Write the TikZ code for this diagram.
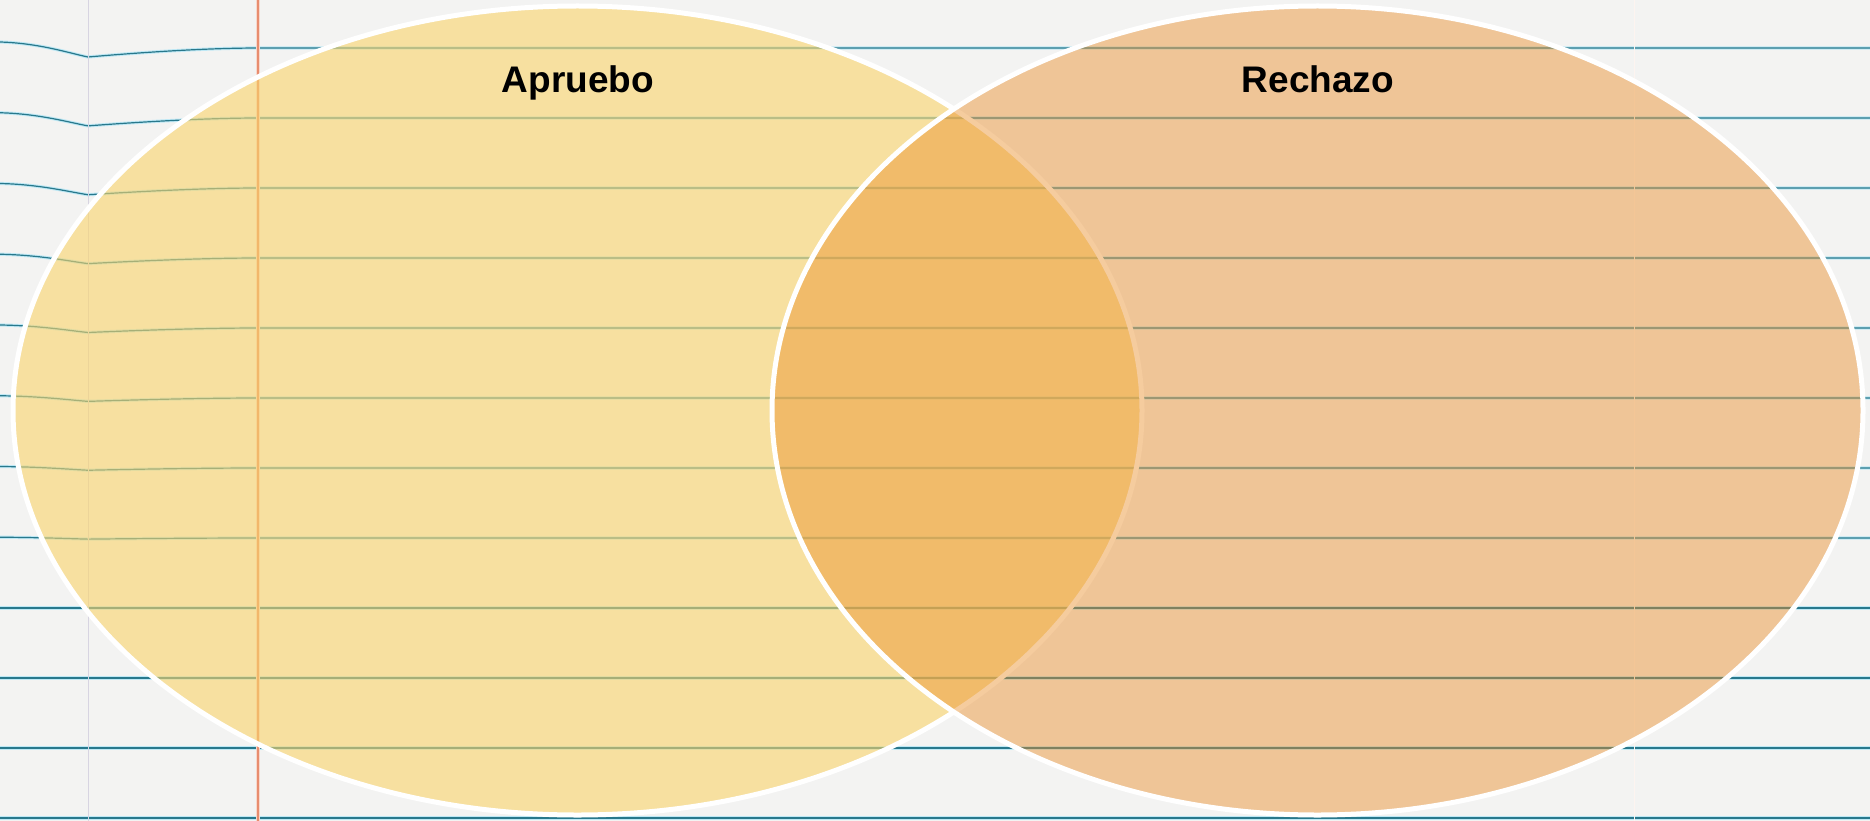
\documentclass[tikz,border=0pt]{standalone}
\usepackage{fontspec}
\setmainfont{Liberation Sans}
\usetikzlibrary{shapes.geometric}
\definecolor{paper}{RGB}{243,243,242}
\definecolor{lineglow}{RGB}{190,232,245}
\definecolor{linedark}{RGB}{40,120,140}
\definecolor{margred}{RGB}{232,140,110}
\definecolor{foldgray}{RGB}{215,212,225}
\definecolor{yellowfill}{RGB}{250,212,106}
\definecolor{orangefill}{RGB}{235,142,42}
\tikzset{
  glowline/.style={lineglow, line width=3.2pt},
  inkline/.style={linedark, line width=1.2pt},
  venn/.style={ellipse, draw=white, line width=5pt, inner sep=0pt},
  leftset/.style={venn, fill=yellowfill, fill opacity=0.6, draw opacity=1},
  rightset/.style={venn, fill=orangefill, fill opacity=0.45, draw opacity=1},
  settitle/.style={font=\bfseries\fontsize{37}{44}\selectfont, text=black, anchor=base, inner sep=0pt}
}
\begin{document}
\begin{tikzpicture}[x=1pt,y=-1pt]
\useasboundingbox (0,0) rectangle (1870,821);
% paper
\fill[paper] (0,0) rectangle (1870,821);
% ruled lines
\foreach \k in {0,...,11}{
  \pgfmathsetmacro{\yy}{48+70*\k}
  \pgfmathsetmacro{\aa}{max(0,6*(1-\k/8))}
  \pgfmathsetmacro{\bb}{max(0,9*(1-\k/8))}
  \draw[glowline] (0,\yy-\aa) .. controls (40,\yy-\aa*0.8) and (70,\yy+\bb*0.6) .. (88,\yy+\bb) .. controls (130,\yy+\bb*0.6) and (200,\yy) .. (260,\yy) -- (1870,\yy);
  \draw[inkline] (0,\yy-\aa) .. controls (40,\yy-\aa*0.8) and (70,\yy+\bb*0.6) .. (88,\yy+\bb) .. controls (130,\yy+\bb*0.6) and (200,\yy) .. (260,\yy) -- (1870,\yy);
}
% fold line and margins
\draw[foldgray, line width=0.8pt] (88,0) -- (88,821);
\draw[margred!35, line width=4pt] (258,0) -- (258,821);
\draw[margred, line width=1.4pt] (258,0) -- (258,821);
\draw[margred!10, line width=1pt] (1634,0) -- (1634,821);
% Venn sets
\node[leftset, minimum width=1129pt, minimum height=809pt] (apruebo) at (577.5,410.5) {};
\node[rightset, minimum width=1091pt, minimum height=809pt] (rechazo) at (1317.5,410.5) {};
% titles
\node[settitle] (tapruebo) at (578,93) {Apruebo};
\node[settitle] (trechazo) at (1318,93) {Rechazo};
\end{tikzpicture}
\end{document}
